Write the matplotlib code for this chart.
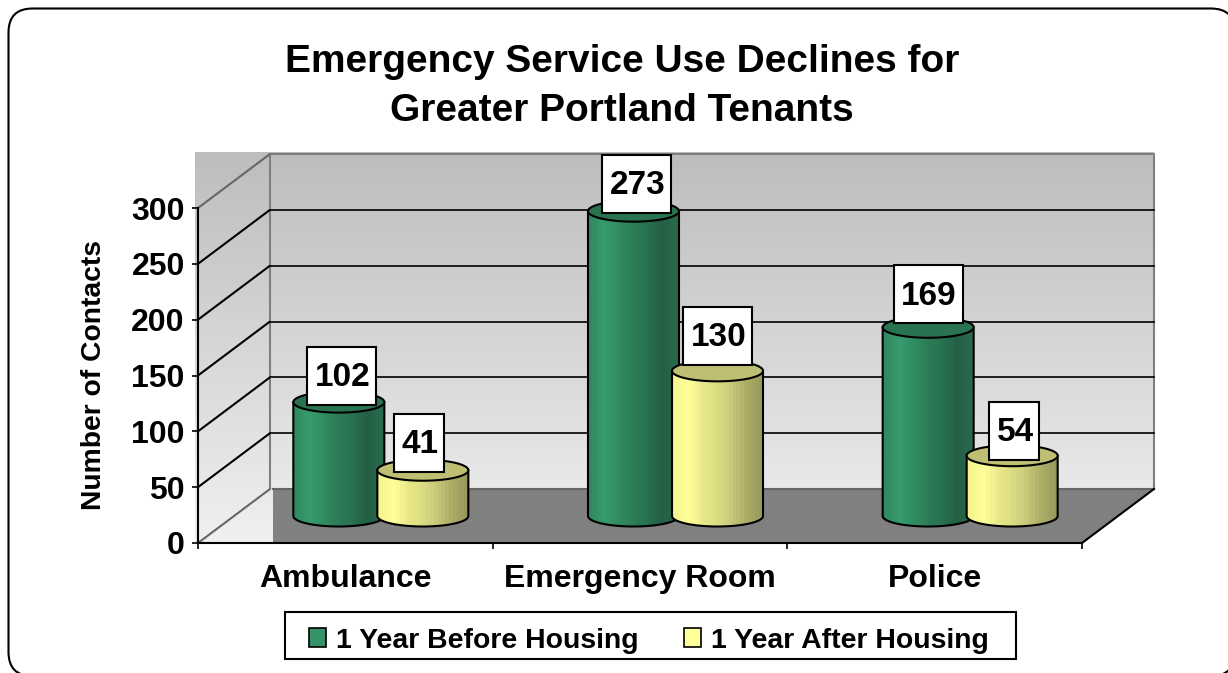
import numpy as np
import matplotlib
matplotlib.use("Agg")
import matplotlib.pyplot as plt
from matplotlib.colors import LinearSegmentedColormap
from matplotlib.patches import FancyBboxPatch, Polygon, Rectangle, Patch

categories = ["Ambulance", "Emergency Room", "Police"]
before_housing = [102, 273, 169]
after_housing = [41, 130, 54]
series_names = ["1 Year Before Housing", "1 Year After Housing"]
y_ticks = [0, 50, 100, 150, 200, 250, 300]
title_text = "Emergency Service Use Declines for\nGreater Portland Tenants"
y_label = "Number of Contacts"

plt.rcParams["font.family"] = ["Liberation Sans", "DejaVu Sans"]
plt.rcParams["font.weight"] = "bold"

W, H = 1228, 673
fig = plt.figure(figsize=(W / 100, H / 100), dpi=100, facecolor="white")

# pixel-space background layer
bg = fig.add_axes([0, 0, 1, 1])
bg.set_xlim(0, W)
bg.set_ylim(H, 0)
bg.axis("off")
bg.add_patch(FancyBboxPatch((8.5, 8.5), 1226.5, 667.5, boxstyle="round,pad=0,rounding_size=24",
                            fc="white", ec="black", lw=1.5, clip_on=True))
wall_cmap = LinearSegmentedColormap.from_list("wall", ["#bdbdbd", "#f0f0f0"])
grad = np.linspace(0, 1, 128).reshape(-1, 1)
bg.imshow(grad, cmap=wall_cmap, extent=(195, 273, 543, 152), aspect="auto", zorder=1)
bg.imshow(grad[:110], cmap=wall_cmap, vmin=0, vmax=1, extent=(270, 1154, 489, 152), aspect="auto", zorder=1)
bg.add_patch(Polygon([(273, 489), (1153, 489), (1082, 543), (273, 543)], fc="#808080", ec="none", zorder=2))
bg.plot([270, 1154, 1154], [153.5, 153.5, 489], color="#7f7f7f", lw=1.5, zorder=3)
bg.plot([270, 270], [153.5, 489], color="#7f7f7f", lw=1.5, zorder=3)
bg.plot([273, 1154], [489, 489], color="#666666", lw=1.5, zorder=3)
bg.add_patch(Rectangle((285, 612), 731, 47, fc="white", ec="black", lw=1.5, zorder=3))
bg.set_xlim(0, W)
bg.set_ylim(H, 0)

# data layer
x0, x1, y0, y1 = 198, 1082, 543, 208
ax = fig.add_axes([x0 / W, 1 - y0 / H, (x1 - x0) / W, (y0 - y1) / H])
ax.patch.set_alpha(0)
px_x = 3 / (x1 - x0)
px_y = 300 / (y0 - y1)

depth_x, depth_y = 72 * px_x, 54 * px_y
for v in y_ticks:
    edge = "#666666" if v in (0, 300) else "black"
    ax.plot([0, depth_x], [v, v + depth_y], color=edge, lw=1.5, clip_on=False, zorder=2,
            solid_capstyle="butt")
    if v not in (0, 300):
        ax.plot([depth_x, 3 + depth_x], [v + depth_y] * 2, color="black", lw=1.2, clip_on=False, zorder=2)
ax.plot([3, 3 + depth_x], [0, depth_y], color="black", lw=1.5, clip_on=False, zorder=2)

green_cmap = LinearSegmentedColormap.from_list(
    "g", ["#2f8a60", "#379c6d", "#318c62", "#2c7c56", "#287050", "#245f45", "#2a6a4c"])
yellow_cmap = LinearSegmentedColormap.from_list(
    "y", ["#f5f58c", "#ffff99", "#e9e98a", "#dcdc84", "#c8c87a", "#adad68", "#9a9a5c"])
base = 27 * px_y
rx = 45.5 * px_x
ry = 10.5 * px_y
shift = 35.5 * px_x
gap = 42 * px_x
t = np.linspace(0, 2 * np.pi, 121)


def cylinder(cx, value, cmap, top_color, z):
    top = base + value
    low = np.linspace(np.pi, 2 * np.pi, 61)
    body = [(cx - rx, top)] + [(cx + rx * np.cos(a), base + ry * np.sin(a)) for a in low] + [(cx + rx, top)]
    body_patch = Polygon(body, closed=True, fc="none", ec="black", lw=1.5, zorder=z + 0.2, clip_on=False)
    ax.add_patch(body_patch)
    im = ax.imshow(np.linspace(0, 1, 24).reshape(1, -1), cmap=cmap, aspect="auto", interpolation="nearest",
                   extent=(cx - rx, cx + rx, base - ry, top), zorder=z)
    im.set_clip_path(body_patch)
    ax.add_patch(Polygon(np.c_[cx + rx * np.cos(t), top + ry * np.sin(t)], closed=True,
                         fc=top_color, ec="black", lw=1.5, zorder=z + 0.3, clip_on=False))


box_w = {3: 69 * px_x, 2: 50 * px_x}
box_h = 58 * px_y
# label-box placement nudges in pixels, (right, up), one pair per bar
nudge_before = [(3, -1), (3, 0), (0, 6)]
nudge_after = [(-4, 0), (0, 8), (2, -2)]
for i, (a, b) in enumerate(zip(before_housing, after_housing)):
    c = i + 0.5 + shift
    cylinder(c - gap, a, green_cmap, "#2a7350", 4)
    cylinder(c + gap, b, yellow_cmap, "#bfbf73", 5)
    for cx, val, (nx, ny) in ((c - gap, a, nudge_before[i]), (c + gap, b, nudge_after[i])):
        w = box_w[len(str(val))]
        cx = cx + nx * px_x
        low = base + val - 2 * px_y + ny * px_y
        ax.add_patch(Rectangle((cx - w / 2, low), w, box_h, fc="white", ec="black", lw=1.5, zorder=8, clip_on=False))
        ax.text(cx + 1 * px_x, low + box_h * 0.47, str(val), ha="center", va="center", fontsize=24, fontweight="bold",
                zorder=9, clip_on=False)

ax.set_xlim(0, 3)
ax.set_ylim(0, 300)
for s in ("top", "right"):
    ax.spines[s].set_visible(False)
for s in ("left", "bottom"):
    ax.spines[s].set_linewidth(1.5)
    ax.spines[s].set_zorder(3)
ax.set_yticks(y_ticks)
ax.set_yticklabels([str(v) for v in y_ticks])
ax.tick_params(axis="y", length=4.5, width=1.2, labelsize=23, pad=5)
ax.set_xticks([0, 1, 2, 3])
ax.set_xticklabels([])
ax.set_xticks([i + 0.5 for i in range(len(categories))], minor=True)
ax.set_xticklabels(categories, minor=True)
ax.tick_params(axis="x", which="major", length=4.5, width=1.2)
ax.tick_params(axis="x", which="minor", length=0, labelsize=23, pad=15)
ax.set_ylabel(y_label, fontsize=20.3, fontweight="bold")
ax.yaxis.set_label_coords((107 - x0) / (x1 - x0), 0.5)

fig.text(622 / W, 1 - 86.5 / H, title_text, ha="center", va="center", fontsize=28, fontweight="bold",
         linespacing=1.47)

handles = [Patch(fc="#339468", ec="black", lw=1.2), Patch(fc="#ffff99", ec="black", lw=1.2)]
leg = ax.legend(handles, series_names, ncol=2, loc="center",
                bbox_to_anchor=((649 - x0) / (x1 - x0), (y0 - 640.5) / (y0 - y1)),
                fontsize=20.4, frameon=False,
                handlelength=0.6, handleheight=0.65, handletextpad=0.35, columnspacing=1.6,
                borderpad=0, borderaxespad=0)
leg.set_zorder(10)

fig.savefig("out.png", dpi=100, facecolor="white")
